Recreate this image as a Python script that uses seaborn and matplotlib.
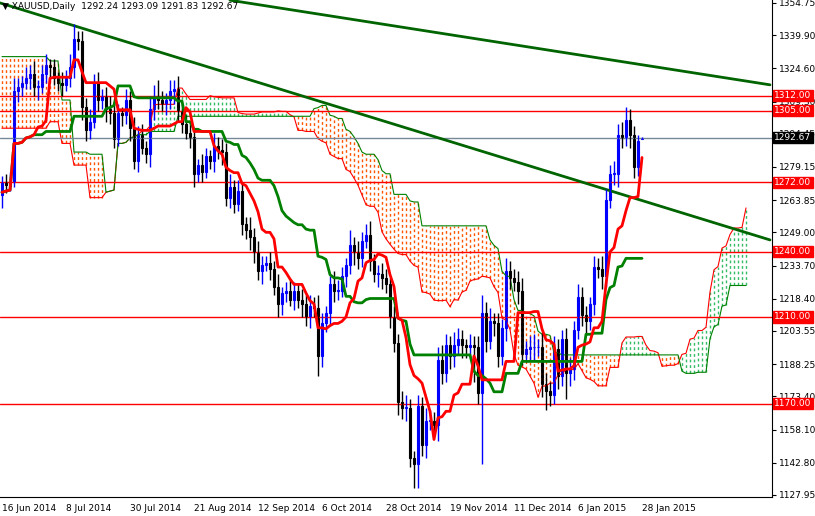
import numpy as np
import pandas as pd
import matplotlib
matplotlib.use("Agg")
import matplotlib.pyplot as plt
import matplotlib.transforms as mtransforms
import seaborn as sns

# ---------------- data ----------------
closes = [1272,1271,1272,1314,1316,1318,1320,1322,1316,1316,1322,
          1326,1325,1320,1318,1317,1320,1325,1338,1337,1307,1296,1300,1318,1310,1312,1306,1304,1292,1304,1303,1310,1297,1282,
          1294,1288,1285,1306,1312,1310,1308,1310,1314,1315,1305,1299,1295,1293,1276,1280,1277,1284,1282,1289,1287,
          1286,1265,1270,1262,1268,1253,1250,1247,1240,1231,1234,1235,1232,1224,1216,1221,1222,1218,1222,1218,1216,1210,
          1215,1214,1192,1207,1212,1225,1222,1222,1229,1234,1243,1240,1237,1245,1248,1236,1230,1230,1228,1225,1210,1198,1171,
          1168,1168,1145,1142,1169,1151,1162,1162,1160,1190,1184,1197,1192,1197,1200,1197,1196,1197,1196,1175,
          1212,1199,1208,1207,1192,1205,1231,1228,1226,1222,1193,1195,1196,1196,1196,1179,1176,1174,1195,1183,1200,1184,
          1186,1204,1219,1211,1208,1216,1233,1232,1229,1264,1276,1276,1294,1293,1301,1294,1279,1291,1292.67]
first_open = 1266
last_open = 1292.24
upper_wick = [3,4,5,6,4,3,5,4,6,3,4, 5,3,4,3,5,4,6,7,4,5,4,6,4,5,3,4,6,5,4,3,5,4,5,
              4,5,3,6,5,7,4,3,5,4,6,3,4,5,4,3,5,4,3,6,4,
              5,4,6,3,5,4,3,6,4,5,4,3,5,4,6,3,4,5,4,3,5,4,
              5,4,6,5,3,4,6,5,4,3,7,4,5,4,5,6,3,4,5,4,3,5,4,
              5,6,4,3,5,4,6,5,4,6,7,5,4,6,5,4,3,5,4,5,
              8,5,6,4,5,4,6,5,4,5,6,4,5,6,4,7,5,4,6,5,4,5,
              5,4,6,5,4,3,5,4,6,5,4,6,5,6,6,5,4,3,0.4]
lower_wick = [6,4,3,2,5,4,3,5,4,6,3, 4,5,3,4,5,3,4,5,4,6,5,4,3,5,4,6,5,4,3,5,4,6,4,
              5,3,4,6,5,4,3,5,4,6,5,4,3,5,6,4,5,3,4,5,4,
              6,4,5,4,3,5,4,6,5,4,6,3,5,4,6,5,4,3,5,4,6,4,
              5,4,9,5,4,6,5,4,3,5,4,6,5,4,3,5,4,6,5,4,5,4,6,
              5,6,4,11,11,5,6,4,5,7,5,4,6,5,4,6,5,4,16,5,
              33,5,4,6,5,4,6,5,4,6,5,4,5,6,4,6,9,5,4,6,5,12,
              6,5,4,5,6,4,5,4,6,5,4,5,6,5,4,6,5,4,0.4]
tick_dates = ["16 Jun 2014","8 Jul 2014","30 Jul 2014","21 Aug 2014","12 Sep 2014","6 Oct 2014",
              "28 Oct 2014","19 Nov 2014","11 Dec 2014","6 Jan 2015","28 Jan 2015"]
tick_bars = [0,16,32,48,64,80,96,112,128,144,160]
early_span_a = [1297]*12 + [1300,1300,1300,1290,1290,1290,1280,1280,1280,1280,1265,1265,1265,1265]
early_span_b = [1330]*12 + [1328,1328,1328,1310,1310,1310,1286,1286,1286,1286,1285,1285,1285,1285]
level_lines = [1312.00, 1305.00, 1272.00, 1240.00, 1210.00, 1170.00]
current_price = 1292.67
trend_lines = [((57, 192), (1356.0, 1317.0)), ((-0.5, 192), (1354.75, 1245.5))]
y_ticks = [1354.75,1339.90,1324.60,1309.30,1294.45,1279.15,1263.85,1249.00,1233.70,1218.40,
           1203.55,1188.25,1173.40,1158.10,1142.80,1127.95]

# ---------------- derived ----------------
c = np.array(closes, float)
o = np.array([first_open] + closes[:-1], float); o[-1] = last_open
h = np.maximum(o, c) + np.array(upper_wick)
l = np.minimum(o, c) - np.array(lower_wick)
n = len(c)
idx = np.arange(n)
df = pd.DataFrame({"bar": idx, "open": o, "close": c, "high": h, "low": l})
H, L = df["high"], df["low"]
df["tenkan"] = (H.rolling(9, min_periods=1).max() + L.rolling(9, min_periods=1).min()) / 2
df["kijun"] = (H.rolling(26, min_periods=1).max() + L.rolling(26, min_periods=1).min()) / 2
spanA_src = (df["tenkan"] + df["kijun"]) / 2
spanB_src = (H.rolling(52, min_periods=1).max() + L.rolling(52, min_periods=1).min()) / 2
span_a = np.concatenate([early_span_a, spanA_src.values])
span_b = np.concatenate([early_span_b, spanB_src.values])
cloud_x = np.arange(len(span_a))

# ---------------- plot ----------------
sns.set_style("white")
plt.rcParams['font.family'] = ['DejaVu Sans']
fig = plt.figure(figsize=(8.15, 5.16), dpi=100)
ax = fig.add_axes([0.0, 19/516, 772/815, 497/516])

bear = span_b > span_a
ax.vlines(cloud_x[bear], span_a[bear], span_b[bear], colors="#ff5500", lw=1.0, linestyles=(0, (2, 2)))
ax.vlines(cloud_x[~bear], span_b[~bear], span_a[~bear], colors="#33bb66", lw=1.0, linestyles=(0, (2, 2)))
ax.plot(cloud_x, span_a, color="red", lw=0.8)
ax.plot(cloud_x, span_b, color="green", lw=0.8)

for y in level_lines:
    ax.axhline(y, color="red", lw=1)
ax.axhline(current_price, color="#778899", lw=1)
for xs, ys in trend_lines:
    ax.plot(xs, ys, color="#006400", lw=2)

up = c >= o
ax.vlines(idx[up], l[up], h[up], color="blue", lw=1)
ax.vlines(idx[~up], l[~up], h[~up], color="black", lw=1)
ax.bar(idx[up], np.maximum(c[up]-o[up], 0.3), bottom=o[up], width=0.6, color="white", edgecolor="blue", lw=0.8)
ax.bar(idx[~up], o[~up]-c[~up], bottom=c[~up], width=0.6, color="red", edgecolor="black", lw=0.8)

sns.lineplot(data=df, x="bar", y="kijun", color="green", lw=2, ax=ax)
sns.lineplot(data=df, x="bar", y="tenkan", color="red", lw=2, ax=ax)

ax.set_xlim(-0.5, 192.5)
ax.set_ylim(1127.0, 1356.1)
ax.set_xlabel(""); ax.set_ylabel("")
ax.yaxis.tick_right()
ax.set_yticks(y_ticks)
ax.set_yticklabels([f"{v:.2f}" for v in y_ticks], fontsize=6.5)
ax.set_xticks(tick_bars)
ax.set_xticklabels(tick_dates, fontsize=6.5, ha="left")
ax.tick_params(axis="both", length=3, width=0.8, colors="black", pad=2)
for s in ["left", "top"]:
    ax.spines[s].set_visible(False)
for s in ["right", "bottom"]:
    ax.spines[s].set_color("black")

tr = mtransforms.blended_transform_factory(ax.transAxes, ax.transData)
for y in level_lines:
    ax.text(1.003, y, f"{y:.2f}", transform=tr, fontsize=6.5, color="white", va="center", ha="left",
            bbox=dict(boxstyle="square,pad=0.12", fc="red", ec="red"))
ax.text(1.003, current_price, f"{current_price:.2f}", transform=tr, fontsize=6.5, color="white",
        va="center", ha="left", bbox=dict(boxstyle="square,pad=0.12", fc="black", ec="black"))

ax.text(0.002, 0.995, "\u25BC XAUUSD,Daily  1292.24 1293.09 1291.83 1292.67", transform=ax.transAxes,
        fontsize=6.5, va="top", ha="left", color="black")

fig.savefig("out.png", dpi=100)
